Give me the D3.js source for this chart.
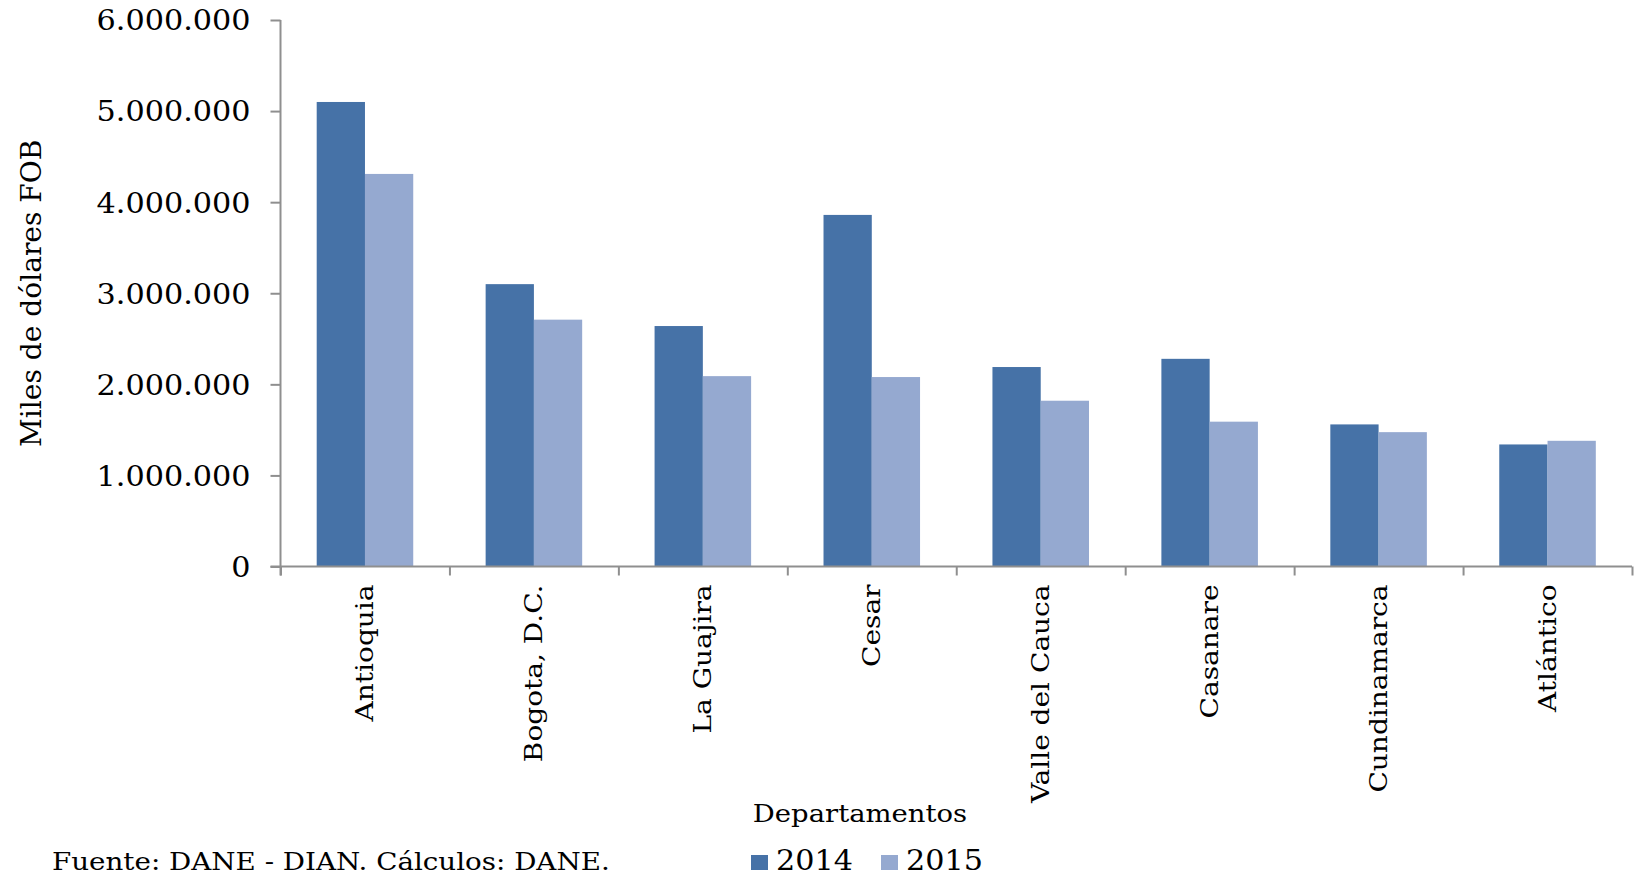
<!DOCTYPE html>
<html>
<head>
<meta charset="utf-8">
<script src="https://cdn.jsdelivr.net/npm/d3@7"></script>
<style>
  html, body { margin: 0; padding: 0; background: #ffffff; }
  svg { display: block; }
  text { font-family: "DejaVu Serif", serif; fill: #000; }
</style>
</head>
<body>
<svg id="chart" width="1641" height="875"></svg>
<script>
// ---- data ----
const categories = ["Antioquia", "Bogota, D.C.", "La Guajira", "Cesar", "Valle del Cauca", "Casanare", "Cundinamarca", "Atlántico"];
const years = ["2014", "2015"];
const values2014 = [5100000, 3100000, 2640000, 3860000, 2190000, 2280000, 1560000, 1340000];
const values2015 = [4310000, 2710000, 2090000, 2080000, 1820000, 1590000, 1475000, 1380000];
const yTicks = [0, 1000000, 2000000, 3000000, 4000000, 5000000, 6000000];
const colors = ["#4672a7", "#95a9d0"];
const yTitle = "Miles de dólares FOB";
const xTitle = "Departamentos";
const sourceNote = "Fuente: DANE - DIAN. Cálculos: DANE.";

(function () {
// ---- layout ----
const svg = d3.select("#chart");
const pLeft = 280.5, pRight = 1632, pTop = 20, pBottom = 566.5;

function stretch(sel, k) {
  sel.each(function () {
    const w = this.getComputedTextLength();
    d3.select(this).attr("textLength", w * k).attr("lengthAdjust", "spacingAndGlyphs");
  });
}

const locale = d3.formatLocale({ decimal: ",", thousands: ".", grouping: [3], currency: ["$", ""] });
const fmt = locale.format(",d");

const x = d3.scaleBand().domain(categories).range([pLeft, pRight]).paddingInner(0).paddingOuter(0);
const x1 = d3.scaleBand().domain(years).range([0, x.bandwidth()]).paddingInner(0).paddingOuter(0.75);
const y = d3.scaleLinear().domain([0, 6000000]).range([pBottom, pTop]);

const series = years.map((yr, i) => ({ year: yr, values: i === 0 ? values2014 : values2015, color: colors[i] }));

// bars
const groups = svg.append("g").selectAll("g")
  .data(categories)
  .join("g")
  .attr("transform", d => `translate(${x(d)},0)`);

groups.selectAll("rect")
  .data((c, ci) => series.map(s => ({ year: s.year, value: s.values[ci], color: s.color })))
  .join("rect")
  .attr("x", d => x1(d.year))
  .attr("width", x1.bandwidth())
  .attr("y", d => y(d.value))
  .attr("height", d => y(0) - y(d.value))
  .attr("fill", d => d.color);

// y axis
const yAxis = svg.append("g")
  .attr("transform", `translate(${pLeft},0)`)
  .call(d3.axisLeft(y).tickValues(yTicks).tickSize(10).tickPadding(20).tickFormat(fmt));
yAxis.select(".domain").remove();
yAxis.selectAll(".tick line").attr("stroke", "#8f8f8f").attr("stroke-width", 2);
yAxis.selectAll(".tick text")
  .style("font-family", "DejaVu Serif")
  .style("font-size", "27.5px")
  .attr("fill", "#000")
  .attr("dy", "0.36em")
  .call(stretch, 1.1);
yAxis.append("line")
  .attr("x1", 0).attr("x2", 0)
  .attr("y1", pTop).attr("y2", pBottom + 9)
  .attr("stroke", "#8f8f8f").attr("stroke-width", 2);

// x axis line + boundary ticks
const xEdge = d3.scaleLinear().domain([0, categories.length]).range([pLeft, pRight]);
const xAxis = svg.append("g")
  .attr("transform", `translate(0,${pBottom})`)
  .call(d3.axisBottom(xEdge).tickValues(d3.range(categories.length + 1)).tickSize(9).tickFormat(""));
xAxis.select(".domain").remove();
xAxis.selectAll(".tick line").attr("stroke", "#8f8f8f").attr("stroke-width", 2);
xAxis.append("line")
  .attr("x1", pLeft - 10).attr("x2", pRight)
  .attr("y1", 0).attr("y2", 0)
  .attr("stroke", "#8f8f8f").attr("stroke-width", 2);

// category labels
svg.append("g").selectAll("text")
  .data(categories)
  .join("text")
  .attr("transform", d => `translate(${x(d) + x.bandwidth() / 2},${pBottom + 18}) rotate(-90)`)
  .attr("text-anchor", "end")
  .attr("dy", "0.32em")
  .style("font-size", "25px")
  .text(d => d)
  .call(stretch, 1.12);

// y title
svg.append("text")
  .attr("transform", `translate(41,${(pTop + pBottom) / 2}) rotate(-90)`)
  .attr("text-anchor", "middle")
  .style("font-size", "27px")
  .text(yTitle)
  .call(stretch, 1.04);

// x title
svg.append("text")
  .attr("x", 860).attr("y", 822)
  .attr("text-anchor", "middle")
  .style("font-size", "24.5px")
  .text(xTitle)
  .call(stretch, 1.12);

// source note
svg.append("text")
  .attr("x", 52).attr("y", 870)
  .style("font-size", "23.5px")
  .text(sourceNote)
  .call(stretch, 1.18);

// legend
const legend = svg.append("g").selectAll("g")
  .data(series)
  .join("g")
  .attr("transform", (d, i) => `translate(${751 + i * 130},855)`);
legend.append("rect")
  .attr("width", 17).attr("height", 15)
  .attr("fill", d => d.color);
legend.append("text")
  .attr("x", 25).attr("y", 15)
  .style("font-size", "27.5px")
  .text(d => d.year)
  .call(stretch, 1.1);
})();
</script>
</body>
</html>
